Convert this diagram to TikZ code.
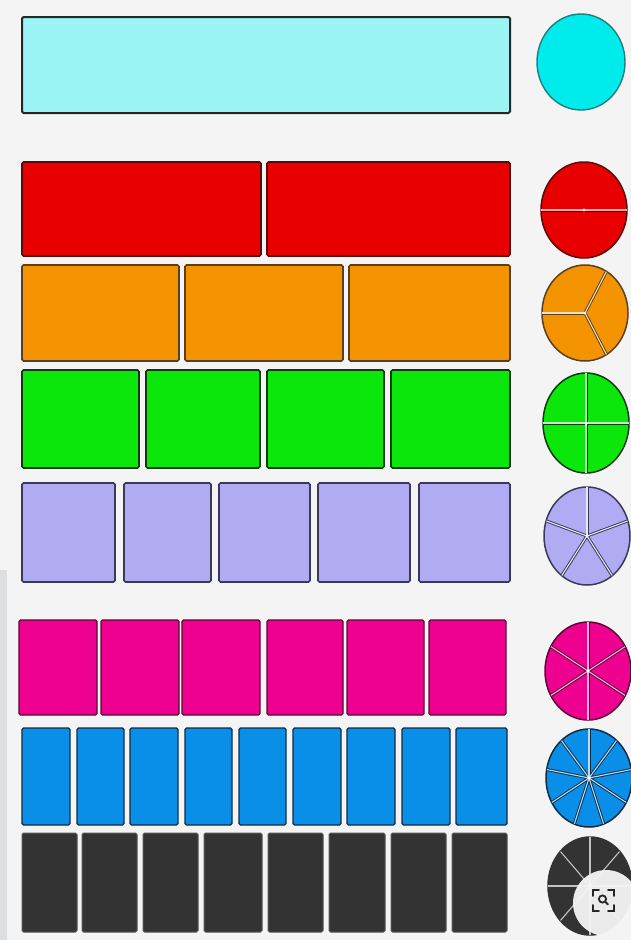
\documentclass[tikz,border=0pt]{standalone}
\definecolor{bgc}{HTML}{F4F4F4}
\definecolor{strip}{HTML}{DCDEDF}
\definecolor{cyanf}{HTML}{9CF5F5}
\definecolor{cyanb}{HTML}{222828}
\definecolor{cyanc}{HTML}{00EBEB}
\definecolor{cyancb}{HTML}{1E7F7F}
\definecolor{redf}{HTML}{E80000}
\definecolor{redb}{HTML}{5A0A0A}
\definecolor{orgf}{HTML}{F39300}
\definecolor{orgb}{HTML}{5A4020}
\definecolor{grnf}{HTML}{0BE60B}
\definecolor{grnb}{HTML}{103A10}
\definecolor{lavf}{HTML}{B0ABF3}
\definecolor{lavb}{HTML}{3A3A58}
\definecolor{pnkf}{HTML}{EE0090}
\definecolor{pnkb}{HTML}{5A0832}
\definecolor{bluf}{HTML}{0A8FE8}
\definecolor{blub}{HTML}{0E2C48}
\definecolor{blkf}{HTML}{333333}
\definecolor{blkb}{HTML}{555555}
\newcommand\mypie[8]{%
  \filldraw[fill=#5, draw=#6, line width=1.5pt] (#1,#2) ellipse [x radius=#3, y radius=#4];
  \foreach \k in {1,...,#7}{%
    \pgfmathsetmacro\ang{-(#8+360*\k/#7)}
    \draw[#6, line width=3pt] (#1,#2) -- ++(\ang:{#3-0.8} and {#4-0.8});
  }
  \foreach \k in {1,...,#7}{%
    \pgfmathsetmacro\ang{-(#8+360*\k/#7)}
    \draw[white!70!#5, line width=1.1pt] (#1,#2) -- ++(\ang:{#3-0.3} and {#4-0.3});
  }
  \fill[white] (#1,#2) circle (1.6pt);
}
\begin{document}
\begin{tikzpicture}[x=1pt,y=-1pt,
  bar/.style={rounded corners=1.5pt, line width=1.6pt}]
\fill[bgc] (0,0) rectangle (631,940);
\useasboundingbox (0,0) rectangle (631,940);
\fill[strip] (0,570) rectangle (7,940);

% row 1
\draw[bar, draw=cyanb, fill=cyanf, line width=2pt] (22,17) rectangle (510,113);
\filldraw[fill=cyanc, draw=cyancb, line width=1.4pt] (581,62) ellipse [x radius=44, y radius=48];

% row 2: halves
\foreach \a/\b in {22/261,267/510}
  \draw[bar, draw=redb, fill=redf] (\a,162) rectangle (\b,256);
\mypie{584}{210}{43}{48}{redf}{redb}{2}{0}

% row 3: thirds
\foreach \a/\b in {22/179,185/343,349/510}
  \draw[bar, draw=orgb, fill=orgf] (\a,265) rectangle (\b,361);
\mypie{585}{313}{43}{48}{orgf}{orgb}{3}{60}

% row 4: quarters
\foreach \a/\b in {22/139,146/260,267/384,391/510}
  \draw[bar, draw=grnb, fill=grnf] (\a,370) rectangle (\b,468);
\mypie{586}{423}{43}{50}{grnf}{grnb}{4}{0}

% row 5: fifths
\foreach \a/\b in {22/115,124/211,219/310,318/410,419/510}
  \draw[bar, draw=lavb, fill=lavf] (\a,483) rectangle (\b,582);
\mypie{587}{536}{43}{49}{lavf}{lavb}{5}{90}

% row 6: sixths
\foreach \a/\b in {19/97,101/179,182/260,267/343,347/424,429/506}
  \draw[bar, draw=pnkb, fill=pnkf, line width=1.2pt] (\a,620) rectangle (\b,715);
\mypie{588}{671}{43}{49}{pnkf}{pnkb}{6}{90}

% row 7: ninths
\foreach \a/\b in {22/70,77/124,130/178,185/232,239/286,293/341,347/395,402/450,456/507}
  \draw[bar, draw=blub, fill=bluf, line width=1.2pt] (\a,728) rectangle (\b,825);
\mypie{589}{778}{43}{49}{bluf}{blub}{9}{90}

% row 8: eighths
\foreach \a/\b in {22/77,82/137,143/198,204/262,268/323,329/385,391/446,452/507}
  \draw[bar, draw=blkb, fill=blkf, line width=1pt] (\a,833) rectangle (\b,932);
\mypie{590}{886}{42}{49}{blkf}{blkf}{8}{0}

% lens overlay
\fill[white!92!gray, opacity=0.95] (606,903) circle (33);
\begin{scope}[line width=1.8pt, line cap=round, black!85]
  \draw (593,896) -- (593,890) -- (599,890);
  \draw (608,890) -- (614,890) -- (614,896);
  \draw (614,905) -- (614,911) -- (608,911);
  \draw (599,911) -- (593,911) -- (593,905);
  \draw (602.5,899) circle (3.6);
  \draw (605.2,901.7) -- (608,904.5);
\end{scope}
\end{tikzpicture}
\end{document}
